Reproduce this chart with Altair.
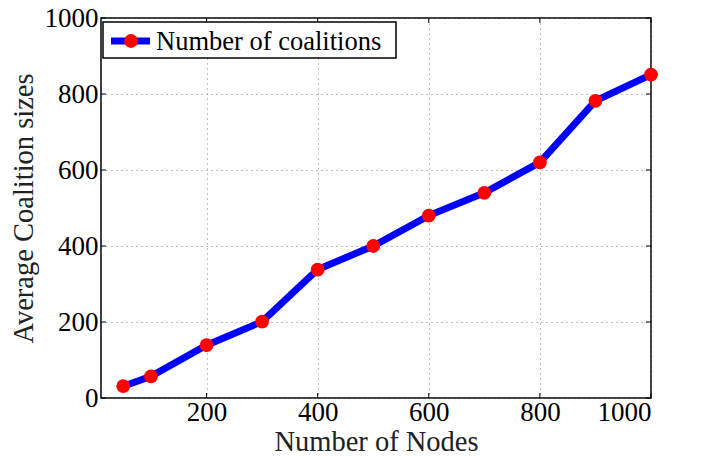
import altair as alt
import pandas as pd

nodes = [50, 100, 200, 300, 400, 500, 600, 700, 800, 900, 1000]
sizes = [31, 57, 139, 201, 338, 400, 480, 540, 620, 782, 851]
x_ticks = [200, 400, 600, 800, 1000]
y_ticks = [0, 200, 400, 600, 800, 1000]
legend_label = "Number of coalitions"

df = pd.DataFrame({"nodes": nodes, "size": sizes})
W, H = 550, 380
FONT = "Liberation Serif"

xs = alt.Scale(domain=[10, 1000], nice=False, zero=False)
ys = alt.Scale(domain=[0, 1000], nice=False)

common = dict(grid=True, gridDash=[1, 4], gridColor="#777", gridOpacity=0.9,
              ticks=False, labelFontSize=27, format="d",
              titleFontSize=28.5, titleFontWeight="normal", labelFont=FONT,
              titleFont=FONT, labelColor="black", titleColor="#222",
              domain=False)

base = alt.Chart(df)
line = base.mark_line(color="#0000ff", strokeWidth=7, clip=True).encode(
    x=alt.X("nodes:Q", scale=xs,
            axis=alt.Axis(values=x_ticks, title="Number of Nodes",
                          labelPadding=1, titlePadding=2, **common)),
    y=alt.Y("size:Q", scale=ys,
            axis=alt.Axis(values=y_ticks, title="Average Coalition sizes",
                          labelPadding=3, titlePadding=6, **common)),
)
pts = base.mark_circle(color="#ff0000", opacity=1, size=190).encode(
    x=alt.X("nodes:Q", scale=xs), y=alt.Y("size:Q", scale=ys))

# inward ticks
tdx = pd.DataFrame({"t": x_ticks})
tdy = pd.DataFrame({"t": y_ticks})
xt_b = alt.Chart(tdx).mark_rule(color="black", strokeWidth=1).encode(
    x=alt.X("t:Q", scale=xs), y=alt.value(H), y2=alt.value(H - 5))
xt_t = alt.Chart(tdx).mark_rule(color="black", strokeWidth=1).encode(
    x=alt.X("t:Q", scale=xs), y=alt.value(0), y2=alt.value(5))
yt_l = alt.Chart(tdy).mark_rule(color="black", strokeWidth=1).encode(
    y=alt.Y("t:Q", scale=ys), x=alt.value(0), x2=alt.value(5))
yt_r = alt.Chart(tdy).mark_rule(color="black", strokeWidth=1).encode(
    y=alt.Y("t:Q", scale=ys), x=alt.value(W), x2=alt.value(W - 5))

# legend
lg = pd.DataFrame({"label": [legend_label]})
lg_box = alt.Chart(lg).mark_rect(fill="white", stroke="black", strokeWidth=1.5).encode(
    x=alt.value(2), x2=alt.value(295), y=alt.value(4), y2=alt.value(40))
lg_line = alt.Chart(lg).mark_rule(color="#0000ff", strokeWidth=7).encode(
    x=alt.value(10), x2=alt.value(49), y=alt.value(23))
lg_pt = alt.Chart(lg).mark_circle(color="#ff0000", opacity=1, size=190).encode(
    x=alt.value(30), y=alt.value(23))
lg_txt = alt.Chart(lg).mark_text(align="left", baseline="middle", font=FONT,
                                 fontSize=26.5, color="black").encode(
    x=alt.value(55), y=alt.value(24), text="label:N")

chart = alt.layer(line, pts, xt_b, xt_t, yt_l, yt_r, lg_box, lg_line, lg_pt, lg_txt).properties(
    width=W, height=H,
    autosize=alt.AutoSizeParams(type="none"),
    padding={"left": 101, "top": 18, "right": 58, "bottom": 58},
    background="white",
).configure_view(stroke="black", strokeWidth=1.5)

chart.save("out.html", embed_options={"renderer": "svg", "actions": False})
